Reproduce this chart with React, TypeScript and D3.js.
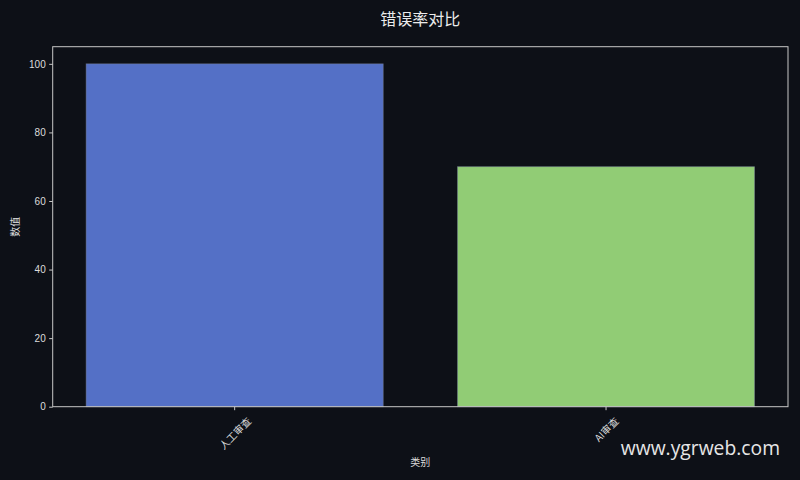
import React, { useRef, useEffect } from 'react';
import * as d3 from 'd3';

const categories = ['人工审查', 'AI审查'];
const values = [100, 70];
const barColors = ['#5470c6', '#91cc75'];
const yTicks = [0, 20, 40, 60, 80, 100];

const width = 800;
const height = 480;
const margin = { top: 46.7, right: 12, bottom: 73.3, left: 52.7 };
const bg = '#0d1017';
const fg = '#dcdcdc';
const fontStack = '"Liberation Sans", Arial, "Noto Sans CJK SC", sans-serif';

const App: React.FC = () => {
  const svgRef = useRef<SVGSVGElement>(null);

  useEffect(() => {
    if (!svgRef.current) return;
    const svg = d3.select(svgRef.current);
    svg.selectAll('*').remove();

    const innerWidth = width - margin.left - margin.right;
    const innerHeight = height - margin.top - margin.bottom;

    svg.append('rect').attr('width', width).attr('height', height).attr('fill', bg);

    const g = svg.append('g').attr('transform', `translate(${margin.left},${margin.top})`);

    const x = d3.scaleBand<string>()
      .domain(categories)
      .range([0, innerWidth])
      .paddingInner(0.2)
      .paddingOuter(0.09);

    const y = d3.scaleLinear().domain([0, 105]).range([innerHeight, 0]);

    // Bars
    g.selectAll('.bar')
      .data(categories)
      .enter()
      .append('rect')
      .attr('x', d => x(d) || 0)
      .attr('y', (_, i) => y(values[i]))
      .attr('width', x.bandwidth())
      .attr('height', (_, i) => innerHeight - y(values[i]))
      .attr('fill', (_, i) => barColors[i])
      .attr('stroke', 'rgba(120,130,150,0.6)')
      .attr('stroke-width', 0.8);

    // Frame
    g.append('rect')
      .attr('width', innerWidth)
      .attr('height', innerHeight)
      .attr('fill', 'none')
      .attr('stroke', '#c8c8c8')
      .attr('stroke-width', 1);

    // Y axis
    const yAxis = g.append('g')
      .call(d3.axisLeft(y).tickValues(yTicks).tickSize(3.5).tickPadding(3.5));
    yAxis.select('.domain').remove();
    yAxis.selectAll('line').attr('stroke', '#c8c8c8');
    yAxis.selectAll('text')
      .attr('fill', fg)
      .attr('font-size', 10)
      .attr('font-family', fontStack);

    // X axis
    const xAxis = g.append('g')
      .attr('transform', `translate(0,${innerHeight})`)
      .call(d3.axisBottom(x).tickSize(3.5).tickFormat(() => ''));
    xAxis.select('.domain').remove();
    xAxis.selectAll('line').attr('stroke', '#c8c8c8');

    // Rotated x tick labels, centred under the tick
    categories.forEach(c => {
      const cx = (x(c) || 0) + x.bandwidth() / 2;
      const t = g.append('text')
        .attr('text-anchor', 'middle')
        .attr('dominant-baseline', 'central')
        .attr('fill', fg)
        .attr('font-size', 10)
        .attr('font-family', '"Noto Sans CJK SC", sans-serif')
        .text(c);
      const len = (t.node() as SVGTextElement).getComputedTextLength();
      const half = ((len + 10) * Math.SQRT1_2) / 2;
      t.attr('transform', `translate(${cx},${innerHeight + 8.5 + half}) rotate(-45)`);
    });

    // Axis labels
    g.append('text')
      .attr('x', innerWidth / 2)
      .attr('y', innerHeight + 59)
      .attr('text-anchor', 'middle')
      .attr('fill', fg)
      .attr('font-size', 10)
      .attr('font-family', '"Noto Sans CJK SC", sans-serif')
      .text('类别');

    g.append('text')
      .attr('transform', 'rotate(-90)')
      .attr('x', -innerHeight / 2)
      .attr('y', -34)
      .attr('text-anchor', 'middle')
      .attr('fill', fg)
      .attr('font-size', 10)
      .attr('font-family', '"Noto Sans CJK SC", sans-serif')
      .text('数值');

    // Title
    svg.append('text')
      .attr('x', margin.left + innerWidth / 2)
      .attr('y', 25)
      .attr('text-anchor', 'middle')
      .attr('fill', '#ececec')
      .attr('font-size', 16)
      .attr('font-family', '"Noto Sans CJK SC", sans-serif')
      .text('错误率对比');

    // Watermark
    svg.append('text')
      .attr('x', 780)
      .attr('y', 455)
      .attr('text-anchor', 'end')
      .attr('fill', '#e6e6e6')
      .attr('font-size', 19.3)
      .attr('font-family', '"Open Sans", "Noto Sans", sans-serif')
      .text('www.ygrweb.com');
  }, []);

  return (
    <div style={{ position: 'fixed', left: 0, top: 0, width, height, background: bg }}>
      <svg ref={svgRef} width={width} height={height} style={{ display: 'block' }} />
    </div>
  );
};

export default App;
